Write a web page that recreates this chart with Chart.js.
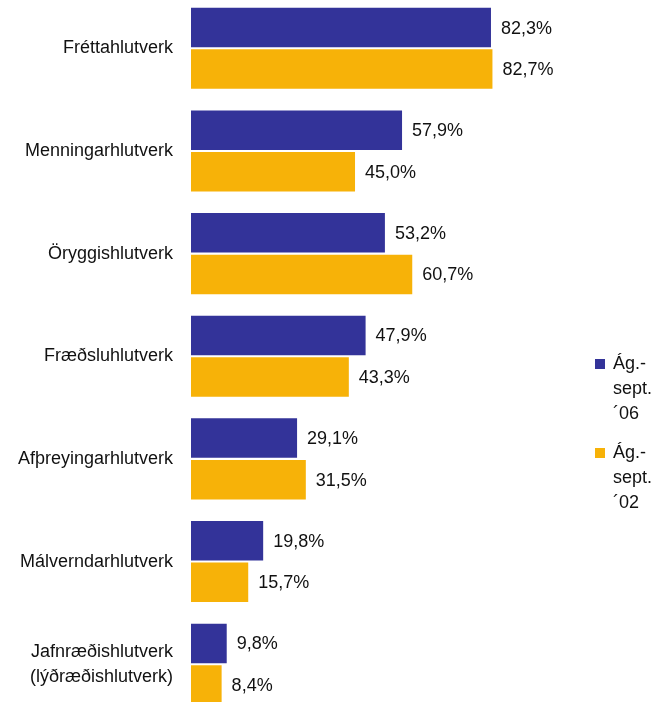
<!DOCTYPE html>
<html>
<head>
<meta charset="utf-8">
<script src="https://cdn.jsdelivr.net/npm/chart.js@4.4.0/dist/chart.umd.min.js"></script>
<style>
    html, body { margin: 0; padding: 0; background: #fff; overflow: hidden; }
    #wrap { position: absolute; left: 0; top: -3px; width: 657px; height: 720px; }
</style>
</head>
<body>
<div id="wrap"><canvas id="chart"></canvas></div>
<script>
// Flokkar (hlutverk)
const categories = [
    "Fréttahlutverk",
    "Menningarhlutverk",
    "Öryggishlutverk",
    "Fræðsluhlutverk",
    "Afþreyingarhlutverk",
    "Málverndarhlutverk",
    ["Jafnræðishlutverk", "(lýðræðishlutverk)"],
];

// Gildi í %
const values2006 = [82.3, 57.9, 53.2, 47.9, 29.1, 19.8, 9.8];
const values2002 = [82.7, 45.0, 60.7, 43.3, 31.5, 15.7, 8.4];

// Texti í skýringum
const legend2006 = ["Ág.-", "sept.", "´06"];
const legend2002 = ["Ág.-", "sept.", "´02"];

const FONT = "Liberation Sans, Arial, Helvetica, sans-serif";

function formatPct(v) {
    return v.toFixed(1).replace(".", ",") + "%";
}

// Gildi við enda súlna
const valueLabels = {
    id: "valueLabels",
    afterDatasetsDraw(chart) {
        const ctx = chart.ctx;
        ctx.save();
        ctx.font = "18px " + FONT;
        ctx.fillStyle = "#111";
        ctx.textAlign = "left";
        ctx.textBaseline = "middle";
        chart.data.datasets.forEach((ds, i) => {
            chart.getDatasetMeta(i).data.forEach((bar, j) => {
                ctx.fillText(formatPct(ds.data[j]), bar.x + 10, bar.y + 1);
            });
        });
        ctx.restore();
    }
};

// Skýringar hægra megin, margar línur
const sideLegend = {
    id: "sideLegend",
    afterDraw(chart) {
        const ctx = chart.ctx;
        ctx.save();
        ctx.font = "18px " + FONT;
        ctx.textBaseline = "alphabetic";
        chart.data.datasets.forEach((ds, i) => {
            const top = 362 + i * 89;
            ctx.fillStyle = ds.backgroundColor;
            ctx.fillRect(595, top, 10, 10);
            ctx.fillStyle = "#111";
            ds.legendLines.forEach((line, k) => {
                ctx.fillText(line, 613, top + 10 + k * 25);
            });
        });
        ctx.restore();
    }
};

const ctx = document.getElementById("chart").getContext("2d");
const chart = new Chart(ctx, {
    type: "bar",
    data: {
        labels: categories,
        datasets: [{
            label: "Ág.-sept. ´06",
            legendLines: legend2006,
            data: values2006,
            backgroundColor: "#333399",
            categoryPercentage: 0.81,
            barPercentage: 0.95,
        }, {
            label: "Ág.-sept. ´02",
            legendLines: legend2002,
            data: values2002,
            backgroundColor: "#F7B208",
            categoryPercentage: 0.81,
            barPercentage: 0.95,
        }]
    },
    options: {
        indexAxis: "y",
        responsive: true,
        maintainAspectRatio: false,
        animation: false,
        layout: { autoPadding: false, padding: { left: 0, right: 101.5, top: 0, bottom: 1.5 } },
        plugins: {
            legend: { display: false },
            tooltip: { enabled: false },
        },
        scales: {
            x: {
                display: false,
                min: 0,
                max: 100,
            },
            y: {
                grid: { display: false, drawTicks: false },
                border: { display: false },
                ticks: {
                    padding: 18,
                    color: "#111",
                    font: { family: FONT, size: 18, lineHeight: 1.4 },
                },
                afterFit(scale) {
                    scale.width = 191;
                    scale.paddingTop = 0;
                    scale.paddingBottom = 0;
                },
            },
        },
    },
    plugins: [valueLabels, sideLegend],
});
</script>
</body>
</html>
